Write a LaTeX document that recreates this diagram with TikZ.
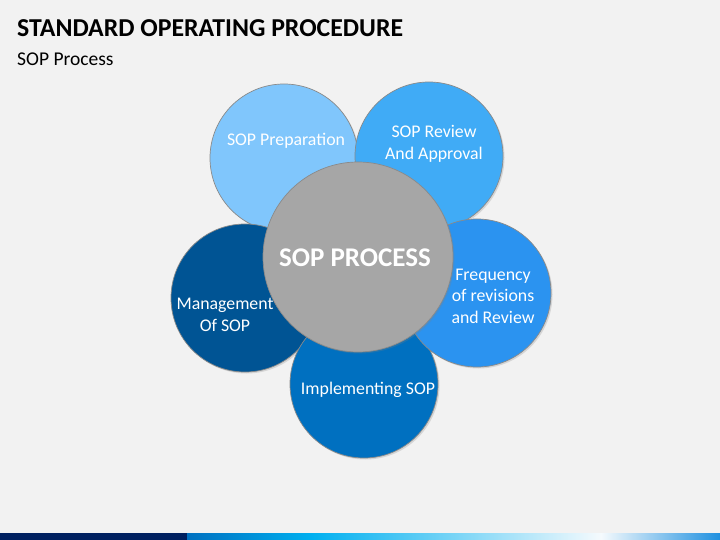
\documentclass[tikz,border=0pt]{standalone}
\usepackage{fontspec}
\setmainfont{Carlito}
\usetikzlibrary{shadows}

\definecolor{pagebg}{HTML}{F2F2F2}
\definecolor{rimgray}{HTML}{8A8A8A}
\definecolor{prepblue}{HTML}{80C6FC}
\definecolor{reviewblue}{HTML}{40ABF6}
\definecolor{freqblue}{HTML}{2B93F0}
\definecolor{implblue}{HTML}{0070C0}
\definecolor{mgmtblue}{HTML}{005494}
\definecolor{hubgray}{HTML}{A6A6A6}
\definecolor{barnavy}{HTML}{002060}

\begin{document}
\begin{tikzpicture}[x=1pt,y=-1pt,
  petal/.style={circle, draw=rimgray, line width=0.7pt, minimum size=148pt, inner sep=0pt,
    drop shadow={opacity=0.25, shadow xshift=1.5pt, shadow yshift=-1.5pt}},
  petaltext/.style={text=white, align=center, font=\fontsize{17.8}{21.5}\selectfont}]

  % page
  \useasboundingbox[fill=pagebg] (0,0) rectangle (720,540);

  % heading
  \node[anchor=base west, inner sep=0pt, font=\fontsize{25.8}{30}\selectfont\bfseries] (title) at (17,37) {STANDARD OPERATING PROCEDURE};
  \node[anchor=base west, inner sep=0pt, font=\fontsize{19.5}{23}\selectfont] (subtitle) at (17,66) {SOP Process};

  % petals, back to front
  \node[petal, fill=prepblue] (prep) at (284,158) {};
  \node[petal, fill=reviewblue] (review) at (429,156) {};
  \node[petal, fill=mgmtblue] (mgmt) at (245,298) {};
  \node[petal, fill=implblue] (impl) at (364,384) {};
  \node[petal, fill=freqblue] (freq) at (477,293) {};

  % hub
  \node[petal, fill=hubgray, minimum size=190pt] (hub) at (358,257) {};

  % labels
  \node[petaltext] (prep-text) at (286,141) {SOP Preparation};
  \node[petaltext] (review-text) at (434,144) {SOP Review\\And Approval};
  \node[petaltext] (freq-text) at (493,296) {Frequency\\of revisions\\and Review};
  \node[petaltext] (impl-text) at (368,390) {Implementing SOP};
  \node[petaltext] (mgmt-text) at (225,315) {Management\\Of SOP};
  \node[text=white, font=\fontsize{27}{31}\selectfont\bfseries] (hub-text) at (355,258) {SOP PROCESS};

  % footer bar
  \fill[barnavy] (0,533) rectangle (187,540);
  \shade[left color=implblue, right color={rgb,255:red,0;green,176;blue,240}] (187,533) rectangle (312,540);
  \shade[left color={rgb,255:red,0;green,176;blue,240}, right color={rgb,255:red,245;green,250;blue,253}] (312,533) rectangle (601,540);
  \shade[left color={rgb,255:red,245;green,250;blue,253}, right color={rgb,255:red,30;green,144;blue,224}] (601,533) rectangle (720,540);
\end{tikzpicture}
\end{document}
